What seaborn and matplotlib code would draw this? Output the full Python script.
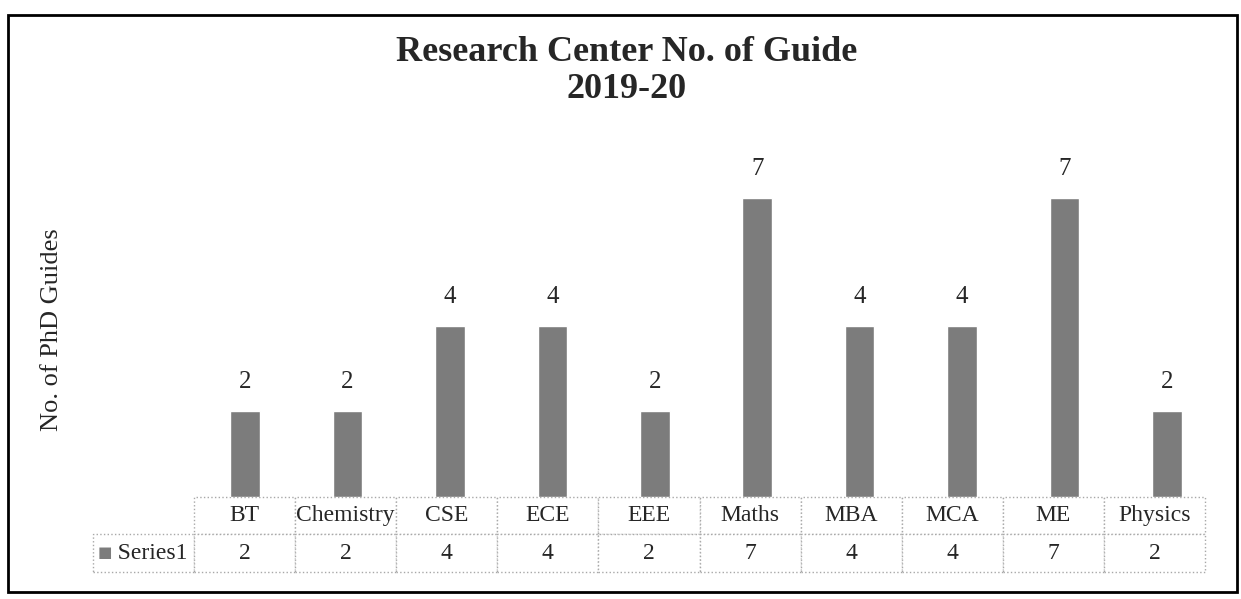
import matplotlib
matplotlib.use("Agg")
import matplotlib.pyplot as plt
import seaborn as sns
from matplotlib.patches import Rectangle

# data
categories = ["BT", "Chemistry", "CSE", "ECE", "EEE", "Maths", "MBA", "MCA", "ME", "Physics"]
guides = [2, 2, 4, 4, 2, 7, 4, 4, 7, 2]
series_name = "Series1"

sns.set_style("white")
plt.rcParams["font.family"] = ["Liberation Serif", "DejaVu Serif"]

bar_color = "#7c7c7c"

fig = plt.figure(figsize=(12.41, 5.99), dpi=100)
ax = fig.add_axes([194 / 1241, 0.1703, 1024 / 1241, 0.571])

sns.barplot(x=categories, y=guides, color=bar_color, width=0.29, saturation=1, ax=ax)
ax.set_ylim(0, 8)
ax.bar_label(ax.containers[0], padding=13, fontsize=18)

sns.despine(ax=ax, left=True, bottom=True)
ax.set_xticks([])
ax.set_yticks([])
ax.set_xlabel("")
ax.set_ylabel("No. of PhD Guides", fontsize=19)
ax.yaxis.set_label_coords(-0.128, 0.49)

# Excel style data table under the bars (slightly narrower than the plot area, as in the scan)
tbl_left = (93 - 194) / 1024
tbl_width = (1205 - 93) / 1024
cell_text = [[series_name] + [str(v) for v in guides]]
tbl = ax.table(cellText=cell_text, colLabels=[""] + categories, cellLoc="center",
               bbox=[tbl_left, -0.219, tbl_width, 0.219])
tbl.auto_set_font_size(False)
tbl.set_fontsize(17)
for (r, c), cell in tbl.get_celld().items():
    cell.set_edgecolor("#a8a8a8")
    cell.set_linestyle(":")
    cell.set_linewidth(1.0)
    if r == 0 and c == 0:
        cell.visible_edges = ""
    if r == 1 and c == 0:
        cell.get_text().set_text("   " + series_name)
ax.text((105 - 194) / 1024, -0.163, "■", transform=ax.transAxes, color=bar_color,
        fontsize=11, ha="center", va="center", family="DejaVu Sans")

fig.text(0.505, 0.881, "Research Center No. of Guide\n2019-20", ha="center", va="center",
         fontsize=26, fontweight="bold", linespacing=1.15)

fig.patches.append(Rectangle((0.0064, 0.012), 0.9904, 0.963, transform=fig.transFigure,
                             fill=False, edgecolor="black", linewidth=2))

fig.savefig("out.png", dpi=100)
